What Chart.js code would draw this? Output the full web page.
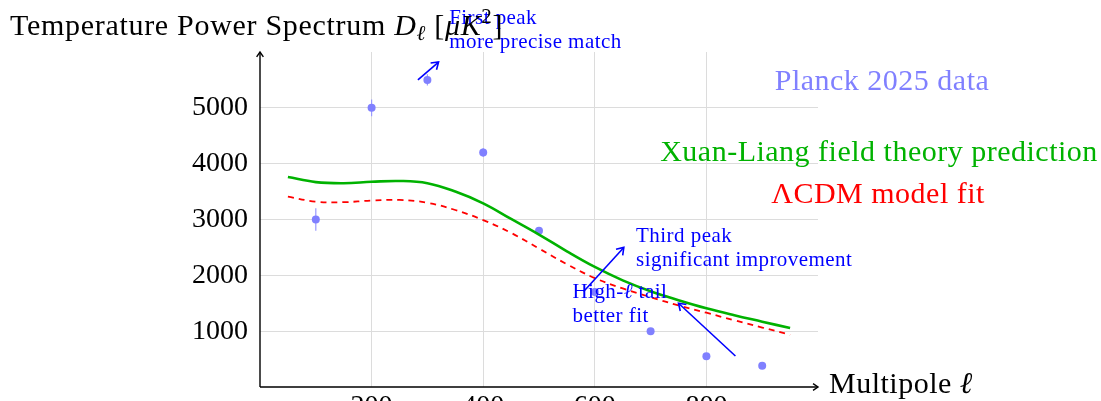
<!DOCTYPE html>
<html>
<head>
<meta charset="utf-8">
<script src="https://cdn.jsdelivr.net/npm/chart.js@4"></script>
<style>
  html, body { margin: 0; padding: 0; background: #fff; }
  #wrap { width: 1101px; height: 401px; }
</style>
</head>
<body>
<div id="wrap"><canvas id="myChart" width="1101" height="401"></canvas></div>
<script>
// Planck points
const planckL = [100, 200, 300, 400, 500, 600, 700, 800, 900];
const planckD = [3000, 5000, 5500, 4200, 2800, 1700, 1000, 550, 380];
const planckErr = [200, 150, 100, 80, 60, 50, 40, 30, 20];

// model curves
const modelL = [50, 100, 150, 200, 250, 300, 350, 400, 450, 500, 550, 600, 650, 700, 750, 800, 850, 900, 950];
const xuanLiang = [3760, 3670, 3650, 3675, 3690, 3650, 3500, 3290, 3010, 2730, 2430, 2150, 1910, 1715, 1555, 1410, 1285, 1170, 1055];
const lcdm = [3410, 3320, 3310, 3340, 3350, 3300, 3170, 2990, 2760, 2480, 2200, 1950, 1765, 1610, 1460, 1330, 1195, 1065, 935];

const xTicks = [200, 400, 600, 800];
const yTicks = [1000, 2000, 3000, 4000, 5000];

// annotations (data coordinates)
const notes = [
  { lines: ['First peak', 'more precise match'], at: [339, 6505], from: [283, 5500], to: [320, 5820] },
  { lines: ['Third peak', 'significant improvement'], at: [674, 2600], from: [580, 1710], to: [652, 2500] },
  { lines: ['High-ℓ tail', 'better fit'], at: [560, 1595], from: [852, 555], to: [750, 1500] }
];

const SERIF = '"Liberation Serif", "DejaVu Serif", serif';
const PLANCK = '#8080ff';
const GREEN = 'rgb(0,178,0)';
const RED = '#ff0000';
const BLUE = '#0000ff';

function arrowHead(ctx, x1, y1, x2, y2, size) {
  const a = Math.atan2(y2 - y1, x2 - x1);
  ctx.beginPath();
  ctx.moveTo(x2 - size * Math.cos(a - 0.6), y2 - size * Math.sin(a - 0.6));
  ctx.lineTo(x2, y2);
  ctx.lineTo(x2 - size * Math.cos(a + 0.6), y2 - size * Math.sin(a + 0.6));
  ctx.stroke();
}

function drawRuns(ctx, x, y, runs) {
  runs.forEach(r => {
    ctx.font = r.font;
    ctx.fillText(r.t, x, y + (r.dy || 0));
    x += ctx.measureText(r.t).width + (r.kern || 0);
  });
}

const decor = {
  id: 'decor',
  beforeDatasetsDraw(chart) {
    const ctx = chart.ctx;
    const xs = chart.scales.x, ys = chart.scales.y;
    ctx.save();
    ctx.strokeStyle = '#9a9aff';
    ctx.lineWidth = 1.2;
    planckL.forEach((l, i) => {
      const px = xs.getPixelForValue(l);
      ctx.beginPath();
      ctx.moveTo(px, ys.getPixelForValue(planckD[i] - planckErr[i]));
      ctx.lineTo(px, ys.getPixelForValue(planckD[i] + planckErr[i]));
      ctx.stroke();
    });
    ctx.restore();
  },
  afterDraw(chart) {
    const ctx = chart.ctx;
    const xs = chart.scales.x, ys = chart.scales.y;
    const a = chart.chartArea;
    ctx.save();

    // axes with arrows
    ctx.strokeStyle = '#000';
    ctx.lineWidth = 1.4;
    ctx.beginPath();
    ctx.moveTo(a.left, a.bottom);
    ctx.lineTo(a.right, a.bottom);
    ctx.moveTo(a.left, a.bottom);
    ctx.lineTo(a.left, a.top);
    ctx.stroke();
    arrowHead(ctx, a.left, a.bottom, a.right, a.bottom, 6);
    arrowHead(ctx, a.left, a.bottom, a.left, a.top, 6);

    // annotations
    ctx.strokeStyle = BLUE;
    ctx.fillStyle = BLUE;
    ctx.lineWidth = 1.6;
    ctx.textBaseline = 'alphabetic';
    ctx.textAlign = 'left';
    ctx.letterSpacing = '0.45px';
    notes.forEach(n => {
      const x1 = xs.getPixelForValue(n.from[0]), y1 = ys.getPixelForValue(n.from[1]);
      const x2 = xs.getPixelForValue(n.to[0]), y2 = ys.getPixelForValue(n.to[1]);
      ctx.beginPath();
      ctx.moveTo(x1, y1);
      ctx.lineTo(x2, y2);
      ctx.stroke();
      arrowHead(ctx, x1, y1, x2, y2, 8);
      const tx = xs.getPixelForValue(n.at[0]), ty = ys.getPixelForValue(n.at[1]);
      n.lines.forEach((line, k) => {
        if (line.indexOf('ℓ') >= 0) {
          const parts = line.split('ℓ');
          drawRuns(ctx, tx, ty + k * 24, [
            { t: parts[0], font: '21px ' + SERIF },
            { t: 'ℓ', font: 'italic 21px ' + SERIF },
            { t: parts[1], font: '21px ' + SERIF }
          ]);
        } else {
          ctx.font = '21px ' + SERIF;
          ctx.fillText(line, tx, ty + k * 24);
        }
      });
    });

    // series labels
    ctx.textAlign = 'center';
    ctx.letterSpacing = '0.5px';
    ctx.font = '30px ' + SERIF;
    ctx.fillStyle = PLANCK;
    ctx.fillText('Planck 2025 data', 882, 90);
    ctx.fillStyle = GREEN;
    ctx.fillText('Xuan-Liang field theory prediction', 879, 161);
    ctx.fillStyle = RED;
    ctx.fillText('ΛCDM model fit', 878, 203);

    // title and axis label
    ctx.textAlign = 'left';
    ctx.fillStyle = '#000';
    ctx.letterSpacing = '0.7px';
    drawRuns(ctx, 10, 35, [
      { t: 'Temperature Power Spectrum ', font: '30px ' + SERIF },
      { t: 'D', font: 'italic 30px ' + SERIF },
      { t: 'ℓ', font: 'italic 21px ' + SERIF, dy: 5 },
      { t: ' [', font: '30px ' + SERIF },
      { t: 'μK', font: 'italic 30px ' + SERIF },
      { t: '2', font: '21px ' + SERIF, dy: -12 },
      { t: ']', font: '30px ' + SERIF }
    ]);
    ctx.letterSpacing = '0.5px';
    drawRuns(ctx, 829, 393, [
      { t: 'Multipole ', font: '30px ' + SERIF },
      { t: 'ℓ', font: 'italic 30px ' + SERIF }
    ]);
    ctx.restore();
  }
};

const ctx = document.getElementById('myChart').getContext('2d');
const myChart = new Chart(ctx, {
  type: 'line',
  data: {
    datasets: [
      {
        label: 'Xuan-Liang field theory prediction',
        data: modelL.map((l, i) => ({ x: l, y: xuanLiang[i] })),
        borderColor: GREEN,
        borderWidth: 2.6,
        pointRadius: 0,
        tension: 0.4,
        fill: false
      },
      {
        label: 'ΛCDM model fit',
        data: modelL.map((l, i) => ({ x: l, y: lcdm[i] })),
        borderColor: RED,
        borderWidth: 1.8,
        borderDash: [6, 5],
        pointRadius: 0,
        tension: 0.4,
        fill: false
      },
      {
        label: 'Planck 2025 data',
        data: planckL.map((l, i) => ({ x: l, y: planckD[i] })),
        showLine: false,
        pointRadius: 4,
        pointBackgroundColor: PLANCK,
        pointBorderWidth: 0,
        borderColor: PLANCK
      }
    ]
  },
  options: {
    responsive: false,
    animation: false,
    layout: { padding: { left: 0, top: 52, right: 283, bottom: 0 } },
    plugins: { legend: { display: false }, tooltip: { enabled: false } },
    scales: {
      x: {
        type: 'linear',
        min: 0,
        max: 1000,
        afterBuildTicks: s => { s.ticks = xTicks.map(v => ({ value: v })); },
        afterFit: s => { s.height = 14; s.paddingLeft = 0; s.paddingRight = 0; },
        grid: { color: '#dcdcdc', lineWidth: 1, drawTicks: false },
        border: { display: false },
        ticks: { color: '#000', padding: 3, maxRotation: 0, callback: v => String(v), font: { family: SERIF, size: 28 } }
      },
      y: {
        type: 'linear',
        min: 0,
        max: 6000,
        afterBuildTicks: s => { s.ticks = yTicks.map(v => ({ value: v })); },
        afterFit: s => { s.width = 260; s.paddingTop = 0; s.paddingBottom = 0; },
        grid: { color: '#dcdcdc', lineWidth: 1, drawTicks: false },
        border: { display: false },
        ticks: { color: '#000', padding: 12, callback: v => String(v), font: { family: SERIF, size: 28 } }
      }
    }
  },
  plugins: [decor]
});
</script>
</body>
</html>
